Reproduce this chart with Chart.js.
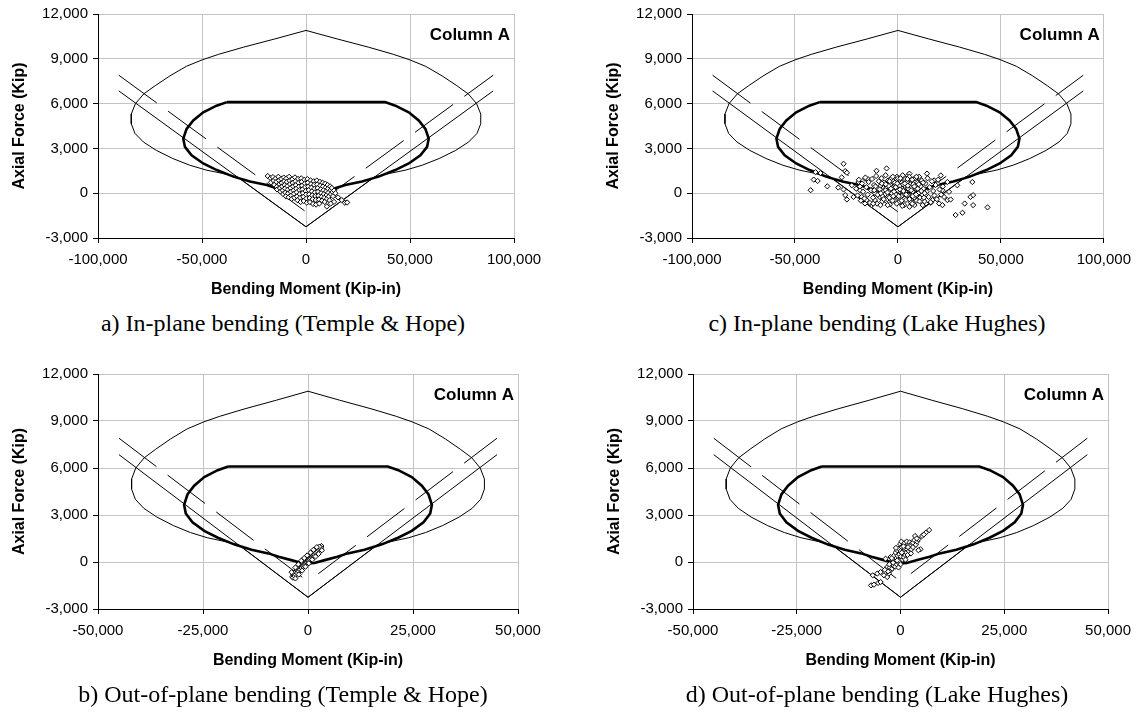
<!DOCTYPE html>
<html>
<head>
<meta charset="utf-8">
<script src="https://cdn.jsdelivr.net/npm/chart.js@4.4.1/dist/chart.umd.min.js"></script>
<style>
  html, body { margin: 0; padding: 0; background: #fff; }
  body { width: 1139px; height: 715px; position: relative; overflow: hidden; }
  .panel { position: absolute; }
  .caption {
    position: absolute;
    font-family: "Liberation Serif", "Times New Roman", serif;
    font-size: 24px;
    line-height: 24px;
    color: #000;
    white-space: nowrap;
    transform: translateX(-50%);
  }
</style>
</head>
<body>
<div class="panel" style="left:0px;top:0px"><canvas id="chartA" width="570" height="305"></canvas></div>
<div class="panel" style="left:570px;top:0px"><canvas id="chartC" width="569" height="305"></canvas></div>
<div class="panel" style="left:0px;top:360px"><canvas id="chartB" width="570" height="355"></canvas></div>
<div class="panel" style="left:570px;top:360px"><canvas id="chartD" width="569" height="355"></canvas></div>

<div class="caption" style="left:283px;top:311px">a) In-plane bending (Temple &amp; Hope)</div>
<div class="caption" style="left:877px;top:311px">c) In-plane bending (Lake Hughes)</div>
<div class="caption" style="left:283px;top:682px">b) Out-of-plane bending (Temple &amp; Hope)</div>
<div class="caption" style="left:877px;top:682px">d) Out-of-plane bending (Lake Hughes)</div>

<script>
// axis ticks
const xTicksIn = [-100000, -50000, 0, 50000, 100000];
const xTicksOut = [-50000, -25000, 0, 25000, 50000];
const yTicks = [-3000, 0, 3000, 6000, 9000, 12000];

// nominal (outer, thin) interaction envelope: top -> left side -> tension apex -> right side -> top
const outerY = [10900, 10330, 9780, 9300, 8950, 8500, 7850, 7200, 6650, 6000, 5300, 4650, 4000, 3430, 2870, 2320, 1880, 1550, 1320, 1100,
  -2250,
  1100, 1320, 1550, 1880, 2320, 2870, 3430, 4000, 4650, 5300, 6000, 6650, 7200, 7850, 8500, 8950, 9300, 9780, 10330, 10900];
const outerInX = [0, -15000, -30000, -42000, -49500, -57500, -65500, -72500, -78000, -82000, -84000, -84000, -82200, -78200, -72000, -64000, -56000, -48000, -40000, -33000,
  0,
  33000, 40000, 48000, 56000, 64000, 72000, 78200, 82200, 84000, 84000, 82000, 78000, 72500, 65500, 57500, 49500, 42000, 30000, 15000, 0];
const outerOutX = [0, -7500, -15000, -21000, -24750, -28750, -32750, -36250, -39000, -41000, -42000, -42000, -41100, -39100, -36000, -32000, -28000, -24000, -20000, -16500,
  0,
  16500, 20000, 24000, 28000, 32000, 36000, 39100, 41100, 42000, 42000, 41000, 39000, 36250, 32750, 28750, 24750, 21000, 15000, 7500, 0];

// design (inner, thick) envelope
const innerY = [6100, 5860, 5420, 4870, 4310, 3650, 3100, 2540, 1990, 1550, 1110, 780, 550, 330, 120, -60, -100,
  -60, 120, 330, 550, 780, 1110, 1550, 1990, 2540, 3100, 3650, 4310, 4870, 5420, 5860, 6100, 6100];
const innerInX = [-38000, -43000, -49400, -54200, -57400, -59000, -58200, -55000, -49400, -42900, -34900, -26900, -18900, -14000, -8000, -3000, 0,
  3000, 8000, 14000, 18900, 26900, 34900, 42900, 49400, 55000, 58200, 59000, 57400, 54200, 49400, 43000, 38000, -38000];
const innerOutX = [-19000, -21500, -24700, -27100, -28700, -29500, -29100, -27500, -24700, -21450, -17450, -13450, -9450, -7000, -4000, -1500, 0,
  1500, 4000, 7000, 9450, 13450, 17450, 21450, 24700, 27500, 29100, 29500, 28700, 27100, 24700, 21500, 19000, -19000];

// straight V lines and parallel dashed lines
const vY = [6850, -2250, 6850];
const vInX = [-90000, 0, 90000];
const vOutX = [-45000, 0, 45000];
const dashLeftY = [7900, -1250];
const dashLeftInX = [-90000, 0];
const dashLeftOutX = [-45000, 0];
const dashRightY = [-1250, 7900];
const dashRightInX = [0, 90000];
const dashRightOutX = [0, 45000];

// recorded demands [moment, axial]
const templeInPlane = [
  [-18400,1150],[-17100,1010],[-16900,720],[-15900,1080],[-15600,840],[-15300,560],[-14600,990],[-14300,760],[-14100,430],[-13900,250],
  [-13300,1100],[-13000,860],[-12800,610],[-12500,340],[-12300,110],[-11900,960],[-11700,690],[-11500,460],[-11200,190],[-11000,-60],
  [-10700,1050],[-10500,810],[-10300,540],[-10100,310],[-9900,40],[-9700,-210],[-9400,990],[-9200,760],[-9000,480],[-8800,240],
  [-8600,-10],[-8400,-270],[-8100,1100],[-7900,840],[-7700,610],[-7500,350],[-7300,90],[-7100,-160],[-6900,-380],[-6600,940],
  [-6400,690],[-6200,460],[-6000,190],[-5800,-40],[-5600,-300],[-5300,1060],[-5100,800],[-4900,540],[-4700,300],[-4500,60],
  [-4300,-210],[-4100,-470],[-3800,960],[-3600,700],[-3400,440],[-3200,210],[-3000,-60],[-2800,-310],[-2600,-590],[-2300,1000],
  [-2100,760],[-1900,500],[-1700,260],[-1500,10],[-1300,-240],[-1100,-520],[-800,900],[-600,650],[-400,410],[-200,140],
  [0,-90],[200,-350],[400,-640],[700,950],[900,700],[1100,440],[1300,200],[1500,-70],[1700,-330],[1900,-600],
  [2200,860],[2400,610],[2600,370],[2800,120],[3000,-140],[3200,-400],[3400,-720],[3700,800],[3900,560],[4100,300],
  [4300,60],[4500,-190],[4700,-450],[4900,-760],[5200,850],[5400,590],[5600,340],[5800,90],[6000,-170],[6200,-430],
  [6400,-690],[6700,760],[6900,510],[7100,260],[7300,10],[7500,-240],[7700,-500],[8000,700],[8200,450],[8400,200],
  [8600,-60],[8800,-310],[9000,-580],[9300,640],[9500,390],[9700,140],[9900,-120],[10100,-380],[10400,550],[10600,300],
  [10800,40],[11000,-220],[11300,-480],[11600,460],[11800,200],[12000,-60],[12400,350],[12700,80],[13000,-200],[13500,180],
  [14100,0],[10000,-890],[11900,-690],[13500,-580],[17200,-460],[18700,-640],[19800,-620],[15400,-280]
];

const lakeInPlane = [
  [-42400,200],[-40900,910],[-39000,820],[-40000,1410],[-37600,1350],[-34300,460],[-29000,380],[-26400,1970],[-25600,1480],[-24800,1370],
  [-27300,1060],[-26400,250],[-25600,-130],[-24800,-420],[-21600,-250],[-22400,530],[-19200,750],[-16000,970],[-14400,930],[-10400,1500],
  [-5500,1660],[-18400,200],[-17600,-250],[-16000,-690],[-15200,-460],[-12800,-800],[-11200,-460],
  [14100,1310],[20800,1190],[17600,860],[19200,640],[24000,750],[28800,530],[36100,750],[24800,90],[21600,200],[22400,-250],
  [24000,-460],[25600,-420],[20000,-690],[21600,-800],[16800,-460],[16000,-640],[13600,-690],[12000,-800],[8000,-800],
  [5600,-910],[28000,-1460],[31300,-1310],[32400,-690],[35200,-250],[36500,-130],[36500,-800],[43500,-950],[4800,1190],
  [5600,1310],[10400,970],[11200,640],
  [-20300,300],[-19600,-150],[-19000,900],[-18500,450],[-18000,-500],[-17400,650],[-16900,100],[-16300,-350],[-15800,1050],[-15300,400],
  [-14700,-100],[-14200,750],[-13600,-650],[-13100,200],[-12600,950],[-12100,-300],[-11600,550],[-11100,0],[-10600,1150],[-10100,-700],
  [-9700,300],[-9300,800],[-8800,-250],[-8400,500],[-8000,1000],[-7600,-550],[-7200,150],[-6800,700],[-6400,-100],[-6000,1200],
  [-5600,400],[-5200,-400],[-4800,850],[-4400,100],[-4000,-750],[-3700,550],[-3300,1000],[-2900,-150],[-2500,350],[-2100,800],
  [-1700,-500],[-1300,150],[-900,600],[-500,1100],[-100,-250],[300,400],[700,900],[1100,-600],[1500,200],[1900,700],
  [2300,1200],[2700,-100],[3100,500],[3500,950],[3900,-450],[4300,250],[4700,750],[5100,-150],[5500,1100],[5900,400],
  [6300,-600],[6700,850],[7100,100],[7500,600],[7900,-300],[8300,1000],[8700,300],[9100,-500],[9500,700],[9900,0],
  [10300,1100],[10700,-300],[11100,450],[11500,850],[11900,-100],[12400,300],[12900,-550],[13400,650],[13900,100],[14400,1000],
  [14900,-250],[15400,400],[15900,-600],[16500,800],[17100,150],[17700,-150],[18300,550],[18900,-400],[19500,900],[20200,250],
  [21000,-100],[21800,450],
  [-6000,200],[-4500,500],[-3000,0],[-2000,300],[-1000,-100],[0,200],[800,500],[1600,-200],[2500,600],[3400,100],
  [4200,700],[5000,300],[6000,-300],[-7500,-200],[-2500,1100],[500,-600],[3000,-800],[7000,-700],[-5000,-800],[-1500,700],
  [0,1000],[1200,1000],[-8500,-800],[9000,1100],[-12000,-700],
  [-10900,450],[-9900,-100],[-8900,250],[-7800,650],[-6900,-400],[-5900,600],[-5100,50],[-4200,-300],[-3400,300],[-2600,-500],
  [-1900,100],[-1100,400],[-300,650],[400,-200],[1000,250],[1800,-500],[2600,150],[3300,650],[4000,-100],[4800,500],
  [5600,-400],[6400,200],[7200,-200],[8000,450],[8800,-100],[9600,300],[10500,-550],[11300,150],[12200,700],[13000,0],
  [-600,-700],[-2300,-200],[-4100,800],[2100,-850],[4600,950],[6900,900],[-8300,0],[-11500,200],[10100,600],[12600,-300]
];

const templeOutPlane = [
  [-3750,-940],[-3500,-820],[-3600,-1000],[-3300,-700],[-3200,-900],[-3000,-640],[-2900,-800],[-2700,-520],[-2600,-700],[-2500,-480],
  [-2300,-420],[-2200,-600],[-2000,-350],[-1900,-500],[-1800,-330],[-1600,-220],[-1500,-380],[-1400,-180],[-1200,-100],[-1100,-300],
  [-1000,-40],[-900,-200],[-800,40],[-700,-120],[-600,60],[-500,-60],[-400,110],[-300,-20],[-200,150],[-100,40],
  [0,200],[100,80],[200,260],[300,120],[400,300],[500,180],[600,380],[700,240],[800,420],[900,300],
  [1000,480],[1100,340],[1200,520],[1300,400],[1400,600],[1500,460],[1600,620],[1800,560],[1900,700],[2000,620],
  [2200,780],[2300,680],[2500,820],[2600,760],[2800,900],[2900,820],[3000,960],[3200,1020],[3100,900],[2700,980],
  [-3900,-650],[-3000,-350],[-2300,-150],[-1600,80],[-900,250],[-200,420],[600,600],[1300,780],[2100,950],
  [-3000,-1050],[-2200,-800],[-1400,-550],[-600,-300],[200,-80],[1000,150],[1800,350],[2500,520],[3300,750]
];

const lakeOutPlane = [
  [-7100,-1490],[-6400,-1450],[-5400,-1340],[-4800,-1280],[-6700,-850],[-5600,-740],[-4800,-640],[-4000,-850],[-3200,-960],[-2800,-740],
  [-2400,-530],[-3200,-320],[-3600,210],[-2400,320],[-3000,-600],[-2600,-350],[-2200,-100],[-2000,-420],[-1900,150],[-1700,-250],
  [-1600,400],[-1400,0],[-1300,-300],[-1200,600],[-1000,250],[-900,-150],[-800,750],[-700,400],[-600,0],[-400,850],
  [-300,500],[-200,100],[-100,1150],[0,-150],[50,700],[100,350],[200,1300],[300,950],[400,550],[500,150],
  [600,1050],[700,700],[800,300],[900,1200],[1000,850],[1100,450],[1300,1000],[1400,600],[1500,1300],[1600,800],
  [1700,450],[1900,1100],[2000,700],[2200,850],[2200,1250],[2400,1050],[2600,800],[2800,1200],[3000,1230],[3000,950],
  [3300,1400],[3500,1660],[3700,1100],[4000,1300],[4300,1450],[4800,810],[4300,750],[5200,1660],[6100,1870],[6900,2040],
  [-500,-350],[1200,150],[-1100,900],[2500,550],
  [-1800,-50],[-800,100],[300,600],[1800,950],[-2100,250],[700,1000],[-2700,-150],[3900,1500],[5600,1750],[-3800,-500]
];

const sansFont = 'Arial, "Liberation Sans", sans-serif';

function toXY(xs, ys) {
  return xs.map((x, i) => ({ x: x, y: ys[i] }));
}

function fmt(v) {
  const s = String(Math.abs(v)).replace(/\B(?=(\d{3})+(?!\d))/g, ',');
  return v < 0 ? '-' + s : s;
}

// "Column A" tag in the top-right corner of each plot
const columnLabel = {
  id: 'columnLabel',
  afterDraw(chart) {
    const { ctx, chartArea } = chart;
    ctx.save();
    ctx.font = 'bold 17px ' + sansFont;
    ctx.fillStyle = '#000';
    ctx.textAlign = 'right';
    ctx.textBaseline = 'middle';
    ctx.fillText('Column A', chartArea.right - 4, chartArea.top + 21);
    ctx.restore();
  }
};

function lineSet(data, width, dash, dashOffset) {
  return {
    data: data,
    showLine: true,
    borderColor: '#000',
    backgroundColor: '#000',
    borderWidth: width,
    borderDash: dash || [],
    borderDashOffset: dashOffset || 0,
    pointRadius: 0,
    pointHoverRadius: 0,
    tension: 0
  };
}

function makePanel(id, cfg) {
  const canvas = document.getElementById(id);
  return new Chart(canvas, {
    type: 'scatter',
    data: {
      datasets: [
        {
          data: cfg.points.map(p => ({ x: p[0], y: p[1] })),
          pointStyle: 'rectRot',
          pointRadius: 2.6,
          pointHoverRadius: 2.6,
          pointBorderWidth: 1,
          borderColor: '#000',
          backgroundColor: '#fff',
          showLine: false
        },
        lineSet(toXY(cfg.innerX, innerY), 2.6),
        lineSet(toXY(cfg.outerX, outerY), 1),
        lineSet(toXY(cfg.vX, vY), 1),
        lineSet(toXY(cfg.dashLX, dashLeftY), 1, [47, 14]),
        lineSet(toXY(cfg.dashRX, dashRightY), 1, [47, 14], 48)
      ]
    },
    options: {
      responsive: false,
      animation: false,
      devicePixelRatio: 1,
      layout: { padding: cfg.padding },
      plugins: {
        legend: { display: false },
        tooltip: { enabled: false }
      },
      scales: {
        x: {
          type: 'linear',
          min: cfg.xTicks[0],
          max: cfg.xTicks[cfg.xTicks.length - 1],
          afterBuildTicks: s => { s.ticks = cfg.xTicks.map(v => ({ value: v })); },
          afterFit: s => { s.height = 62; },
          grid: { color: '#c4c4c4', lineWidth: 1, tickColor: '#000', tickLength: 5 },
          border: { color: '#000', width: 1 },
          ticks: {
            color: '#000',
            padding: 8,
            maxRotation: 0,
            autoSkip: false,
            font: { family: sansFont, size: 15 },
            callback: v => fmt(v)
          },
          title: {
            display: true,
            text: 'Bending Moment (Kip-in)',
            color: '#000',
            font: { family: sansFont, size: 16, weight: 'bold' },
            padding: { top: 0, bottom: 1 }
          }
        },
        y: {
          type: 'linear',
          min: yTicks[0],
          max: yTicks[yTicks.length - 1],
          afterBuildTicks: s => { s.ticks = yTicks.map(v => ({ value: v })); },
          afterFit: s => { s.width = 98; },
          grid: { color: '#c4c4c4', lineWidth: 1, tickColor: '#000', tickLength: 5 },
          border: { color: '#000', width: 1 },
          ticks: {
            color: '#000',
            padding: 5,
            autoSkip: false,
            font: { family: sansFont, size: 15 },
            callback: v => fmt(v)
          },
          title: {
            display: true,
            text: 'Axial Force (Kip)',
            color: '#000',
            font: { family: sansFont, size: 16, weight: 'bold' },
            padding: { top: 10, bottom: 0 }
          }
        }
      }
    },
    plugins: [columnLabel]
  });
}

makePanel('chartA', {
  points: templeInPlane, innerX: innerInX, outerX: outerInX, vX: vInX,
  dashLX: dashLeftInX, dashRX: dashRightInX, xTicks: xTicksIn,
  padding: { left: 0, right: 56, top: 12, bottom: 5 }
});
makePanel('chartC', {
  points: lakeInPlane, innerX: innerInX, outerX: outerInX, vX: vInX,
  dashLX: dashLeftInX, dashRX: dashRightInX, xTicks: xTicksIn,
  padding: { left: 24, right: 32, top: 12, bottom: 5 }
});
makePanel('chartB', {
  points: templeOutPlane, innerX: innerOutX, outerX: outerOutX, vX: vOutX,
  dashLX: dashLeftOutX, dashRX: dashRightOutX, xTicks: xTicksOut,
  padding: { left: 0, right: 52, top: 14, bottom: 44 }
});
makePanel('chartD', {
  points: lakeOutPlane, innerX: innerOutX, outerX: outerOutX, vX: vOutX,
  dashLX: dashLeftOutX, dashRX: dashRightOutX, xTicks: xTicksOut,
  padding: { left: 25, right: 25, top: 14, bottom: 44 }
});
</script>
</body>
</html>
